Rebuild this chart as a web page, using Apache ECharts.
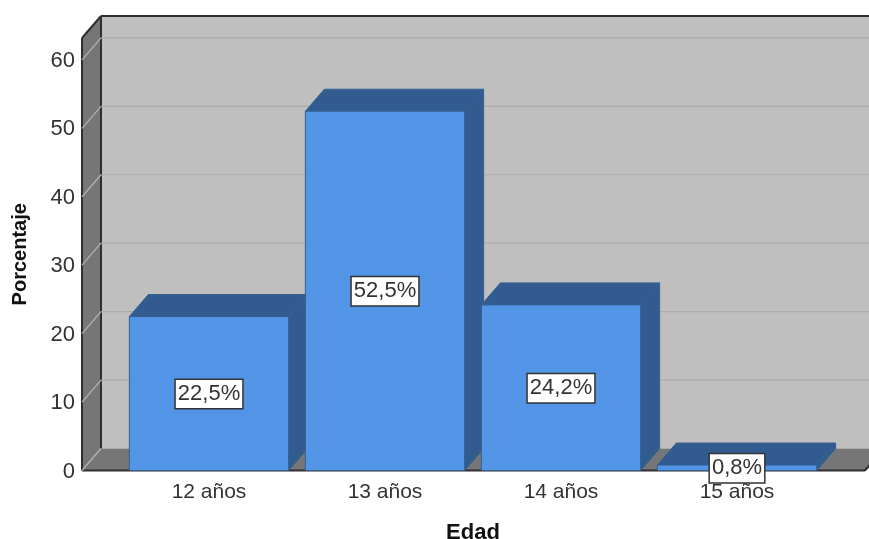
<!DOCTYPE html>
<html>
<head>
<meta charset="utf-8">
<style>html,body{margin:0;padding:0;background:#fff}#chart{width:869px;height:539px}</style>
<script src="https://cdn.jsdelivr.net/npm/echarts@6/dist/echarts.min.js"></script>
</head>
<body>
<div id="chart"></div>
<script>
const categories = ['12 años', '13 años', '14 años', '15 años'];
const percentages = [22.5, 52.5, 24.2, 0.8];
const yTicks = [0, 10, 20, 30, 40, 50, 60];

// Oblique projection of the box: depth offset in pixels, side margins of the plot box
const DEPTH_X = 19, DEPTH_Y = -22, MARGIN_L = 39, MARGIN_R = 40;
const FONT = '"Liberation Sans", Arial, sans-serif';
const COL = {
  wall: '#bfbfbf', sideWall: '#767676', floor: '#767676', frame: '#2e2e2e',
  gridBack: '#acacac', gridSide: '#b4b4b4', front: '#5294e6', shade: '#325c90', edge: '#34608f'
};

const poly = (points, fill, stroke) => ({
  type: 'polygon', shape: { points }, style: { fill, stroke: stroke || fill, lineWidth: stroke ? 1 : 0 }
});
const line = (x1, y1, x2, y2, stroke, lineWidth) => ({
  type: 'line', shape: { x1, y1, x2, y2 }, style: { stroke, lineWidth }
});

// Back wall, side wall, floor and their frame
function renderBox(params, api) {
  const c = params.coordSys;
  const l = c.x - MARGIN_L, r = c.x + c.width + MARGIN_R, t = c.y, b = c.y + c.height;
  const dx = DEPTH_X, dy = DEPTH_Y;
  return {
    type: 'group',
    children: [
      poly([[l + dx, t + dy], [r + dx, t + dy], [r + dx, b + dy], [l + dx, b + dy]], COL.wall),
      poly([[l, t], [l + dx, t + dy], [l + dx, b + dy], [l, b]], COL.sideWall),
      poly([[l, b], [l + dx, b + dy], [r + dx, b + dy], [r, b]], COL.floor),
      line(l + dx, t + dy, r + dx, t + dy, COL.frame, 2),
      line(l, t, l + dx, t + dy, COL.frame, 2),
      line(l, t, l, b, COL.frame, 2),
      line(l + dx, t + dy, l + dx, b + dy, COL.frame, 2),
      line(l, b, r, b, COL.frame, 2),
      line(r, b, r + dx, b + dy, COL.frame, 2)
    ]
  };
}

// One gridline per tick: across the back wall and down the side wall
function renderGrid(params, api) {
  const c = params.coordSys;
  const l = c.x - MARGIN_L, r = c.x + c.width + MARGIN_R;
  const v = api.value(1);
  const y = api.coord([0, v])[1];
  const children = [line(l, y, l + DEPTH_X, y + DEPTH_Y, COL.gridSide, 1.2)];
  if (v > 0) children.push(line(l + DEPTH_X, y + DEPTH_Y, r + DEPTH_X, y + DEPTH_Y, COL.gridBack, 1.2));
  return { type: 'group', children };
}

// A bar as a box: front face, top and right side
function renderBar(params, api) {
  const center = api.coord([api.value(0), api.value(1)]);
  const base = api.coord([api.value(0), 0]);
  const w = api.size([1, 0])[0] * 0.905;
  const l = center[0] - w / 2, r = center[0] + w / 2, t = center[1], b = base[1];
  const dx = DEPTH_X, dy = DEPTH_Y;
  return {
    type: 'group',
    children: [
      poly([[l, t], [l + dx, t + dy], [r + dx, t + dy], [r, t]], COL.shade, COL.edge),
      poly([[r, t], [r + dx, t + dy], [r + dx, b + dy], [r, b]], COL.shade, COL.edge),
      poly([[l, t], [r, t], [r, b], [l, b]], COL.front, COL.edge)
    ]
  };
}

// Value tag centred on the front face
function renderTag(params, api) {
  const v = api.value(1);
  const p = api.coord([api.value(0), v / 2]);
  return {
    type: 'text',
    style: {
      x: p[0], y: p[1] + 0.5,
      text: v.toFixed(1).replace('.', ',') + '%',
      align: 'center', verticalAlign: 'middle',
      font: '22px ' + FONT, fill: '#333333',
      backgroundColor: '#ffffff', borderColor: '#333333', borderWidth: 1.5,
      padding: [5, 2, 1, 2]
    }
  };
}

const barData = percentages.map((v, i) => [i, v]);

const chart = echarts.init(document.getElementById('chart'), null, { renderer: 'canvas' });
chart.setOption({
  animation: false,
  backgroundColor: '#ffffff',
  grid: { left: 121, right: 44, top: 38, bottom: 68.5, outerBoundsMode: 'none' },
  xAxis: {
    type: 'category',
    data: categories,
    name: 'Edad',
    nameLocation: 'middle',
    nameGap: 51,
    nameTextStyle: { fontFamily: FONT, fontSize: 22, fontWeight: 'bold', color: '#111' },
    axisLine: { show: false },
    axisTick: { show: false },
    axisLabel: { fontFamily: FONT, fontSize: 21, color: '#333', margin: 11 }
  },
  yAxis: {
    type: 'value',
    min: 0,
    max: 63.2,
    interval: 10,
    offset: MARGIN_L,
    name: 'Porcentaje',
    nameLocation: 'middle',
    nameGap: 52,
    nameTextStyle: { fontFamily: FONT, fontSize: 20, fontWeight: 'bold', color: '#111' },
    axisLine: { show: false },
    axisTick: { show: false },
    splitLine: { show: false },
    axisLabel: { fontFamily: FONT, fontSize: 22, color: '#333', margin: 7, showMaxLabel: false, verticalAlign: 'top', lineHeight: 2 }
  },
  series: [
    { type: 'custom', name: 'caja', coordinateSystem: 'cartesian2d', clip: false, silent: true, z: 1,
      data: [[0, 0]], renderItem: renderBox },
    { type: 'custom', name: 'rejilla', coordinateSystem: 'cartesian2d', clip: false, silent: true, z: 2,
      data: yTicks.map(v => [0, v]), renderItem: renderGrid },
    { type: 'custom', name: 'Porcentaje', coordinateSystem: 'cartesian2d', clip: false, z: 3,
      data: barData, renderItem: renderBar },
    { type: 'custom', name: 'etiquetas', coordinateSystem: 'cartesian2d', clip: false, z: 4,
      data: barData, renderItem: renderTag }
  ]
});
</script>
</body>
</html>
